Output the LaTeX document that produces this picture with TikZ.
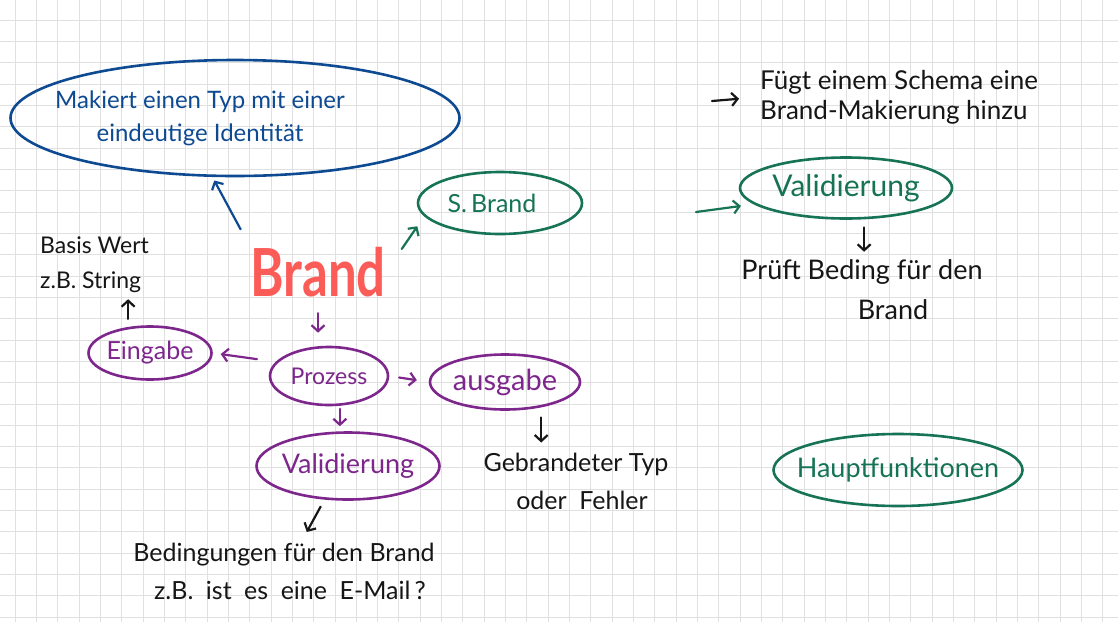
\documentclass[tikz,border=0pt]{standalone}
\usepackage{fontspec}
\setmainfont{Lato}
\usepackage{xcolor}
\usepackage{tikz}
\usetikzlibrary{arrows.meta,shapes.geometric}
\definecolor{inkblue}{RGB}{14, 74, 145}
\definecolor{inkgreen}{RGB}{22, 115, 86}
\definecolor{inkpurple}{RGB}{125, 38, 140}
\definecolor{inkred}{RGB}{252, 92, 88}
\definecolor{inkblack}{RGB}{22, 22, 22}
\definecolor{gridgray}{RGB}{224, 224, 224}

\begin{document}
\begin{tikzpicture}[x=1pt, y=-1pt,
    every node/.style={font=\fontsize{25}{30}\selectfont, inner sep=0pt},
    bubble/.style={draw, ellipse, line width=2.6pt, inner xsep=-60pt},
    pen/.style={line width=2.2pt, line cap=round, -{Straight Barb[length=6pt, width=13pt]}},
    gridline/.style={draw=gridgray, line width=0.9pt}]
    % paper
    \useasboundingbox (0,0) rectangle (1118,622);
    \fill[white] (0,0) rectangle (1118,622);
    \begin{scope}
        \clip (0,0) rectangle (1118,622);
        \foreach \gx in {0,...,53}
            \draw[gridline] ({15+21.33*(\gx-1)},0) -- ({15+21.33*(\gx-1)},622);
        \foreach \gy in {0,...,30}
            \draw[gridline] (0,{20+21.33*(\gy-1)}) -- (1118,{20+21.33*(\gy-1)});
    \end{scope}

    % centre word
    \node[text=inkred, font=\fontsize{51}{51}\selectfont\bfseries] (brand) at (318,272)
        {\scalebox{1}[1.3]{Brand}};

    % blue note
    \node[bubble, draw=inkblue, text=inkblue, minimum width=449pt, minimum height=116pt, align=center,
          font=\fontsize{24}{33}\selectfont] (makiert) at (235,118)
        {Makiert einen Typ mit einer\hspace*{70pt}\\eindeutige Identität\hspace*{70pt}};

    % green side
    \node[bubble, draw=inkgreen, text=inkgreen, minimum width=164pt, minimum height=62pt,
          font=\fontsize{25}{28}\selectfont] (sbrand) at (500,203) {S.\,Brand\hspace*{16pt}};
    \node[bubble, draw=inkgreen, text=inkgreen, minimum width=212pt, minimum height=61pt,
          font=\fontsize{30}{32}\selectfont] (valgreen) at (846,188) {Validierung};
    \node[anchor=west, align=left, text=inkblack, font=\fontsize{26}{30}\selectfont] (fuegt) at (760,97)
        {Fügt einem Schema eine\\Brand-Makierung hinzu};
    \node[align=center, text=inkblack, font=\fontsize{27}{40}\selectfont] (prueft) at (862,290)
        {Prüft Beding für den\\\hspace*{62pt}Brand};
    \node[bubble, draw=inkgreen, text=inkgreen, minimum width=249pt, minimum height=72pt,
          font=\fontsize{27}{30}\selectfont] (haupt) at (898,470) {Hauptfunktionen};

    % purple side
    \node[bubble, draw=inkpurple, text=inkpurple, minimum width=123pt, minimum height=53pt,
          font=\fontsize{25}{28}\selectfont] (eingabe) at (150,353) {Eingabe};
    \node[bubble, draw=inkpurple, text=inkpurple, minimum width=118pt, minimum height=58pt,
          font=\fontsize{23}{26}\selectfont] (prozess) at (329,376) {Prozess};
    \node[bubble, draw=inkpurple, text=inkpurple, minimum width=150pt, minimum height=55pt,
          font=\fontsize{29}{30}\selectfont] (ausgabe) at (505,382) {ausgabe};
    \node[bubble, draw=inkpurple, text=inkpurple, minimum width=183pt, minimum height=67pt,
          font=\fontsize{27}{30}\selectfont] (valpurple) at (348,466) {Validierung};
    \node[anchor=west, align=left, text=inkblack, font=\fontsize{23}{35}\selectfont] (basis) at (40,265)
        {Basis Wert\\z.B. String};
    \node[align=center, text=inkblack, font=\fontsize{25}{38}\selectfont] (gebrandet) at (576,481)
        {Gebrandeter Typ\\\hspace*{12pt}oder\enspace Fehler};
    \node[align=center, text=inkblack, font=\fontsize{25}{38}\selectfont] (bedingungen) at (284,571)
        {Bedingungen für den Brand\\\hspace*{12pt}z.B.\enspace ist\enspace es\enspace eine\enspace E-Mail\,?};

    % loose arrow starts
    \coordinate (fstart) at (712,101);
    \coordinate (gstart) at (696,212);

    % arrows
    \draw[pen, draw=inkblue, shorten <=20pt, shorten >=4pt] (brand.north west) -- (makiert.-111);
    \draw[pen, draw=inkgreen, shorten <=28pt, shorten >=12pt] (brand.east) -- (sbrand.190);
    \draw[pen, draw=inkgreen, shorten >=13pt] (gstart) -- (valgreen.190);
    \draw[pen, draw=inkblack, shorten >=21pt] (fstart) -- (fuegt.west);
    \draw[pen, draw=inkblack, shorten <=8pt, shorten >=8pt] (valgreen.-60) -- (valgreen.-60 |- prueft.north);
    \draw[pen, draw=inkpurple, shorten <=16pt, shorten >=13pt] (brand.south) -- (brand.south |- prozess.north);
    \draw[pen, draw=inkpurple, shorten <=19pt, shorten >=8pt] (prozess.165) -- (eingabe.east);
    \draw[pen, draw=inkpurple, shorten <=10pt, shorten >=12pt] (prozess.east) -- (ausgabe.west);
    \draw[pen, draw=inkpurple, shorten <=3pt, shorten >=5pt] (prozess.-70) -- (prozess.-70 |- valpurple.north);
    \draw[pen, draw=inkblack, shorten <=10pt, shorten >=10pt] (ausgabe.-35) -- (ausgabe.-35 |- gebrandet.north);
    \draw[pen, draw=inkblack, shorten <=8pt, shorten >=12pt] (valpurple.-125) -- ([xshift=17pt]bedingungen.north);
    \draw[pen, draw=inkblack, shorten <=8pt, shorten >=6pt] (eingabe.130) -- (eingabe.130 |- basis.south);
\end{tikzpicture}
\end{document}
